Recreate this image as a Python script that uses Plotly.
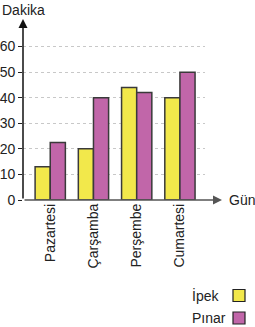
import plotly.graph_objects as go

days = ["Pazartesi", "Çarşamba", "Perşembe", "Cumartesi"]
ipek = [13, 20, 44, 40]
pinar = [22.5, 40, 42, 50]
y_ticks = [0, 10, 20, 30, 40, 50, 60]
series_names = ["İpek", "Pınar"]
series_colors = ["#f2e84b", "#c166a9"]

W, H = 255, 327
L, R, T, B = 23, 50, 21, 127
PW, PH = W - L - R, H - T - B
FONT = "Liberation Sans, Arial, sans-serif"
FS = 14

fig = go.Figure()
for name, vals, col in zip(series_names, [ipek, pinar], series_colors):
    fig.add_trace(go.Bar(
        x=days, y=vals, name=name,
        marker=dict(color=col, line=dict(color="#3a3a3a", width=1.5)),
        showlegend=False,
    ))

fig.update_layout(
    width=W, height=H,
    margin=dict(l=L, r=R, t=T, b=B, pad=0, autoexpand=False),
    paper_bgcolor="white", plot_bgcolor="white",
    barmode="group", bargap=0.3, bargroupgap=0,
    font=dict(family=FONT, size=FS, color="#222"),
    xaxis=dict(
        type="category", range=[-0.63, 3.58], automargin=False,
        tickangle=-90, showgrid=False, zeroline=False,
        showline=False, ticks="", ticklen=0,
        tickfont=dict(size=FS, family=FONT, color="#222"),
    ),
    yaxis=dict(
        range=[0, 70], tickvals=y_ticks, ticktext=[str(v) for v in y_ticks],
        automargin=False,
        showgrid=True, gridcolor="#c8c8c8", griddash="dot", gridwidth=1,
        zeroline=False, showline=False, ticks="outside", ticklen=4,
        tickcolor="#222", tickfont=dict(size=FS, family=FONT, color="#222"),
    ),
)

px = lambda x: (x - L) / PW
py = lambda y: (T + PH - y) / PH

# y axis arrow
fig.add_annotation(x=px(L), y=py(19), ax=0, ay=181, xref="paper", yref="paper",
                   axref="pixel", ayref="pixel", showarrow=True, arrowhead=2,
                   arrowsize=1.2, arrowwidth=1.5, arrowcolor="#111", text="")
# x axis arrow
fig.add_annotation(x=px(222), y=py(200), ax=-199, ay=0, xref="paper", yref="paper",
                   axref="pixel", ayref="pixel", showarrow=True, arrowhead=2,
                   arrowsize=1.2, arrowwidth=1.5, arrowcolor="#555", text="")
fig.add_annotation(x=px(0), y=py(10), xref="paper", yref="paper", xanchor="left",
                   yanchor="middle", text="Dakika", showarrow=False,
                   font=dict(size=FS, family=FONT, color="#222"))
fig.add_annotation(x=px(227), y=py(200), xref="paper", yref="paper", xanchor="left",
                   yanchor="middle", text="Gün", showarrow=False,
                   font=dict(size=FS, family=FONT, color="#222"))

# custom legend
for i, (name, col) in enumerate(zip(series_names, series_colors)):
    yc = 295.5 + i * 22.5
    fig.add_shape(type="rect", xref="paper", yref="paper",
                  x0=px(233), x1=px(245), y0=py(yc - 6), y1=py(yc + 6),
                  fillcolor=col, line=dict(color="#222", width=1.2))
    fig.add_annotation(x=px(190), y=py(yc), xref="paper", yref="paper",
                       xanchor="left", yanchor="middle", text=name, showarrow=False,
                       font=dict(size=FS, family=FONT, color="#222"))

fig.write_html("out.html")
